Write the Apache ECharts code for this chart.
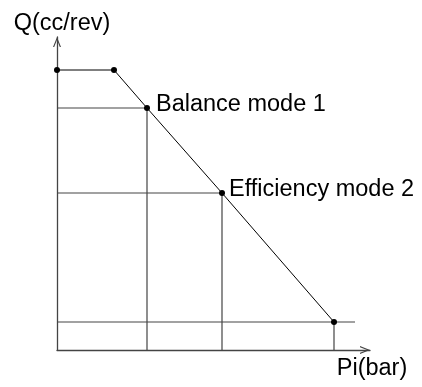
<!DOCTYPE html>
<html lang="en">

<head>
    <meta charset="UTF-8">
    <title>Q-Pi curve</title>
    <style>
        html,
        body,
        #chart {
            margin: 0;
            padding: 0;
            overflow: hidden;
            width: 100%;
            height: 100%;
            background: #fff;
        }
    </style>
</head>

<body>
    <div id="chart"></div>
    <script src="https://cdn.jsdelivr.net/npm/echarts@6/dist/echarts.min.js"></script>
    <script>
        // curve corner points (Pi, Q) in arbitrary units
        var curveX = [0, 57, 90, 165, 277];
        var curveY = [280, 280, 242, 157, 28];
        var pointLabels = ['', '', 'Balance mode 1', 'Efficiency mode 2', ''];
        var labelGap = [0, 0, 6, 4, 0];
        // points that get guide lines, and how far their horizontal guide runs
        var guideIndex = [2, 3, 4];
        var guideEndX = [90, 165, 298];

        var axisMax = 313;
        var font = 'Liberation Sans, Arial, Helvetica, sans-serif';
        var fontSize = 23.5;
        var arrow = 'path://M4,0 L8,10 L6.8,10 L4,3 L1.2,10 L0,10 Z';

        var curveData = [];
        for (var i = 0; i < curveX.length; i++) {
            var item = { value: [curveX[i], curveY[i]] };
            if (pointLabels[i]) {
                item.label = { show: true, formatter: pointLabels[i], distance: labelGap[i] };
            }
            curveData.push(item);
        }

        var series = [];
        for (var g = 0; g < guideIndex.length; g++) {
            var k = guideIndex[g];
            series.push({
                type: 'line',
                symbol: 'none',
                silent: true,
                z: 1,
                lineStyle: { color: '#444', width: 1.2 },
                data: [[0, curveY[k]], [guideEndX[g], curveY[k]]]
            });
            series.push({
                type: 'line',
                symbol: 'none',
                silent: true,
                z: 1,
                lineStyle: { color: '#444', width: 1.2 },
                data: [[curveX[k], curveY[k]], [curveX[k], 0]]
            });
        }
        series.push({
            type: 'line',
            z: 3,
            symbol: 'circle',
            symbolSize: 6,
            itemStyle: { color: '#000' },
            lineStyle: { color: '#000', width: 1 },
            label: {
                position: 'right',
                offset: [0, -3],
                color: '#000',
                fontFamily: font,
                fontSize: fontSize
            },
            data: curveData
        });

        var axisCommon = {
            type: 'value',
            min: 0,
            max: axisMax,
            axisTick: { show: false },
            axisLabel: { show: false },
            splitLine: { show: false },
            axisLine: {
                show: true,
                symbol: ['none', arrow],
                symbolSize: [8, 10],
                symbolOffset: [0, -5],
                lineStyle: { color: '#444', width: 1.3 }
            }
        };

        var chart = echarts.init(document.getElementById('chart'));
        chart.setOption({
            animation: false,
            grid: { left: 57, right: 52, top: 37, bottom: 37 },
            xAxis: Object.assign({}, axisCommon, {
                name: 'Pi(bar)',
                nameLocation: 'end',
                nameGap: 2,
                nameTextStyle: {
                    color: '#000',
                    fontFamily: font,
                    fontSize: fontSize,
                    align: 'center',
                    verticalAlign: 'top',
                    padding: [7, 0, 0, 0]
                }
            }),
            yAxis: Object.assign({}, axisCommon, {
                name: 'Q(cc/rev)',
                nameLocation: 'end',
                nameGap: 1,
                nameTextStyle: {
                    color: '#000',
                    fontFamily: font,
                    fontSize: fontSize,
                    align: 'center',
                    padding: [0, 0, 0, 10]
                }
            }),
            series: series
        });
    </script>
</body>

</html>
